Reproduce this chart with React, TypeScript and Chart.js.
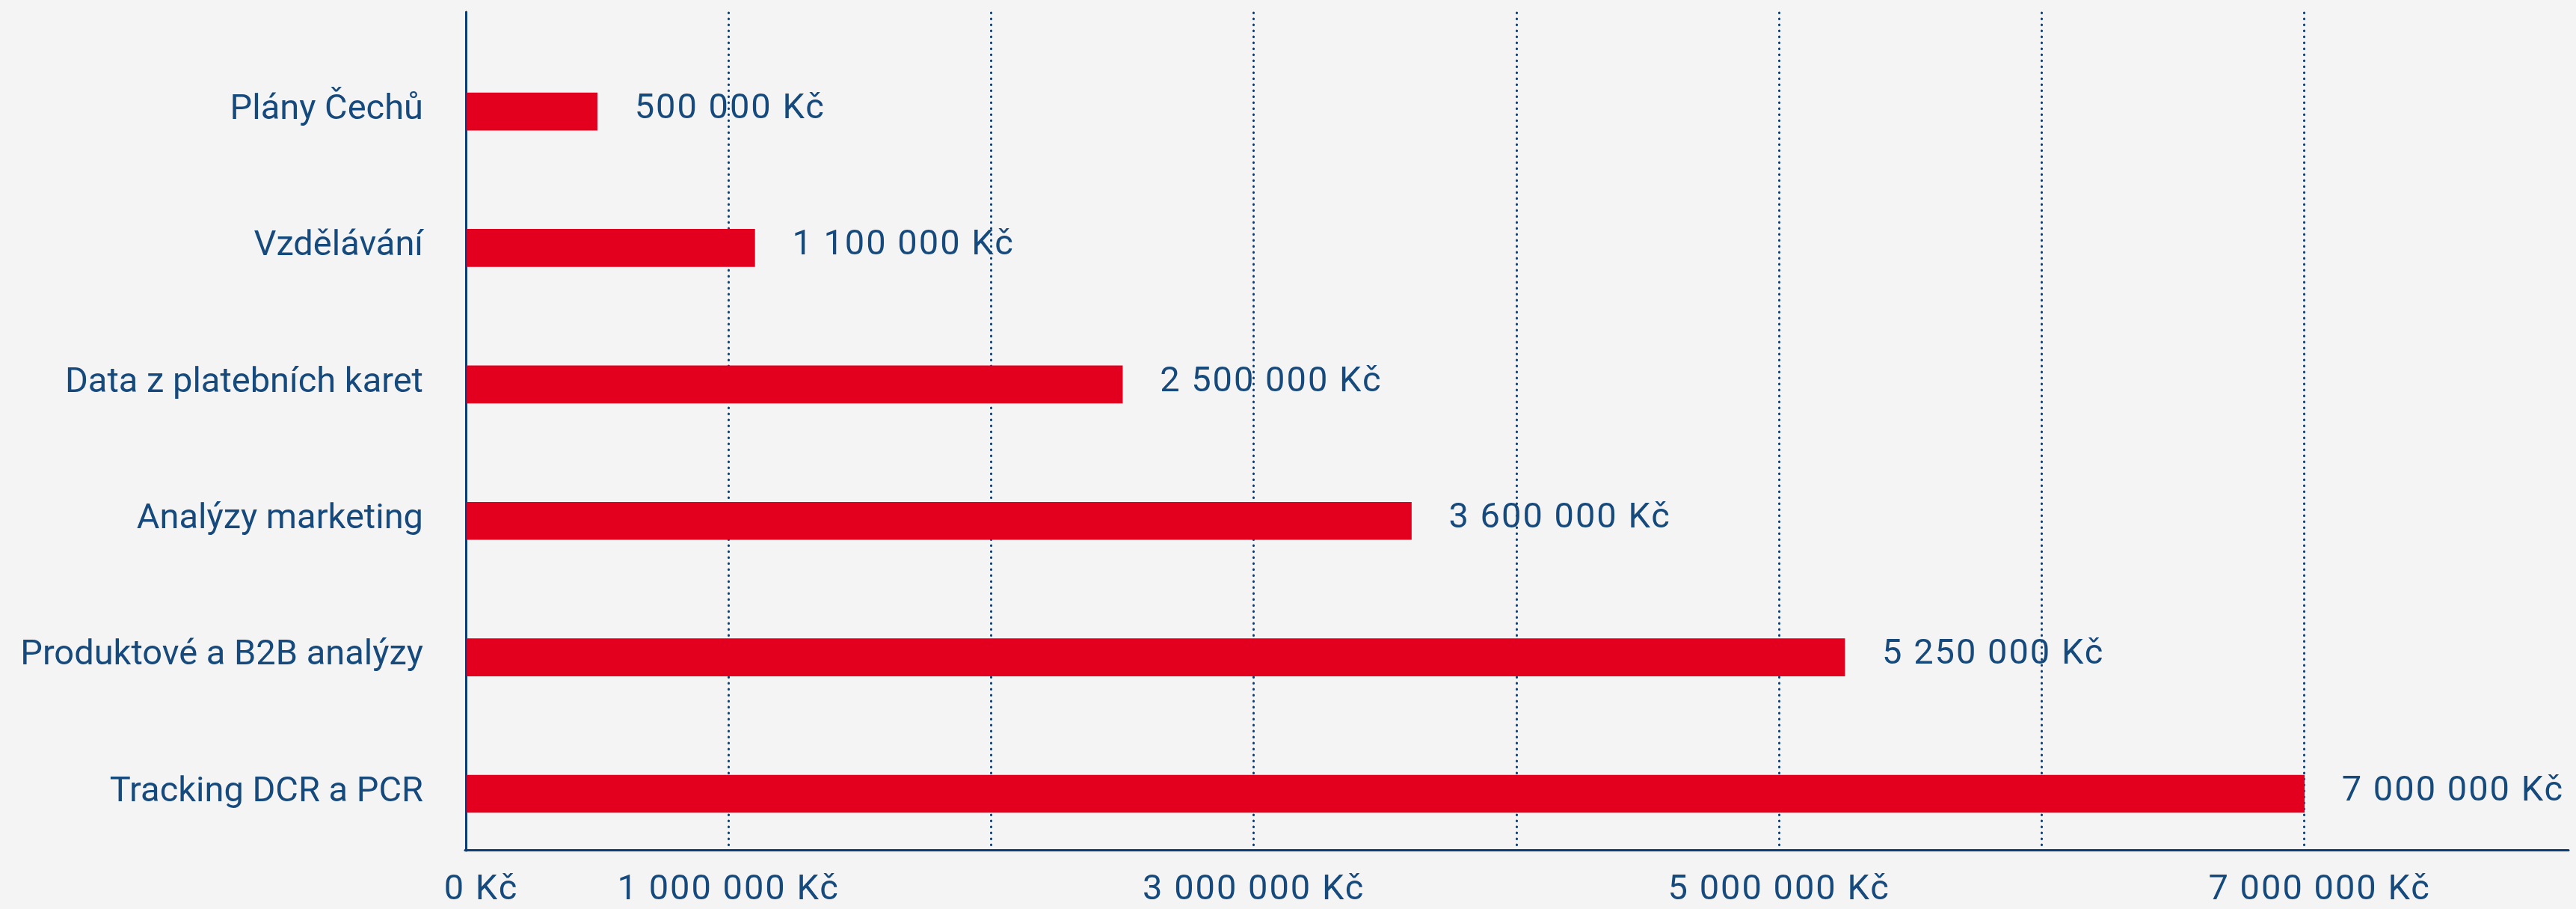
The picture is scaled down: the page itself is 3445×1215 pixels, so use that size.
import React, { useEffect, useRef } from "react";
import { Chart, registerables } from "chart.js";

Chart.register(...registerables);

// ---- data ----
const categories: string[] = [
  "Plány Čechů",
  "Vzdělávání",
  "Data z platebních karet",
  "Analýzy marketing",
  "Produktové a B2B analýzy",
  "Tracking DCR a PCR",
];
const values: number[] = [500000, 1100000, 2500000, 3600000, 5250000, 7000000];
const xTickValues: number[] = [0, 1000000, 2000000, 3000000, 4000000, 5000000, 6000000, 7000000, 8000000];
const xLabeledTicks: number[] = [0, 1000000, 3000000, 5000000, 7000000];
const xShiftedTicks: number[] = [0, 7000000];
const X_MIN = 0;
const X_MAX = 8000000;

// ---- style ----
const BG = "#f4f4f4";
const BAR = "#e3001e";
const TEXT = "#174a7c";
const AXIS = "#0b3d75";
const FONT_FAMILY = "Roboto";
const FONT_SIZE = 47;
const NUM_SPACING = "2px";

const fmt = (v: number) => String(v).replace(/\B(?=(\d{3})+(?!\d))/g, " ") + " Kč";

const bgPlugin = {
  id: "bgAndCaps",
  beforeDraw(chart: any) {
    const ctx = chart.ctx;
    ctx.save();
    ctx.fillStyle = BG;
    ctx.fillRect(0, 0, chart.width, chart.height);
    ctx.restore();
    ctx.lineCap = "round";
    ctx.letterSpacing = "0px";
  },
  afterDraw(chart: any) {
    chart.ctx.letterSpacing = "0px";
  },
};

const valueLabelPlugin = {
  id: "valueLabels",
  afterDatasetsDraw(chart: any) {
    const ctx = chart.ctx;
    const meta = chart.getDatasetMeta(0);
    ctx.save();
    ctx.font = `${FONT_SIZE}px ${FONT_FAMILY}`;
    ctx.fillStyle = TEXT;
    ctx.textAlign = "left";
    ctx.textBaseline = "middle";
    ctx.letterSpacing = NUM_SPACING;
    meta.data.forEach((bar: any, i: number) => {
      ctx.fillText(fmt(values[i]), bar.x + 50, bar.y - 3);
    });
    ctx.restore();
    // x-axis tick labels (z: 1) are drawn after this hook
    ctx.letterSpacing = NUM_SPACING;
  },
};

const zeroPadding = (s: any) => {
  s.paddingTop = 0;
  s.paddingBottom = 0;
  s.paddingLeft = 0;
  s.paddingRight = 0;
};

export default function App() {
  const ref = useRef<HTMLCanvasElement | null>(null);

  useEffect(() => {
    document.body.style.margin = "0";
    document.body.style.background = BG;
    if (!ref.current) return;
    const font = { family: FONT_FAMILY, size: FONT_SIZE };
    const chart = new Chart(ref.current, {
      type: "bar",
      data: {
        datasets: [
          {
            data: values.map((v, i) => ({ x: v, y: i })) as any,
            backgroundColor: BAR,
            borderWidth: 0,
            barThickness: 50,
          },
        ],
      },
      options: {
        indexAxis: "y",
        animation: false,
        responsive: false,
        layout: { padding: { top: 17, right: 12, left: 0, bottom: 0 } },
        plugins: { legend: { display: false }, tooltip: { enabled: false } },
        scales: {
          x: {
            type: "linear",
            min: X_MIN,
            max: X_MAX,
            offset: false,
            afterBuildTicks: (s: any) => {
              s.ticks = xTickValues.map((v) => ({ value: v }));
            },
            afterFit: (s: any) => {
              s.height = 79;
              zeroPadding(s);
            },
            grid: {
              color: (c: any) =>
                c.tick && (c.tick.value === X_MIN || c.tick.value === X_MAX) ? "rgba(0,0,0,0)" : AXIS,
              lineWidth: 3,
              drawTicks: false,
              offset: false,
            },
            border: { display: true, color: AXIS, width: 3, dash: [0.5, 7.5] },
            ticks: {
              autoSkip: false,
              maxRotation: 0,
              padding: 26,
              color: TEXT,
              font,
              z: 1,
              callback: (v: any) => {
                const n = Number(v);
                if (!xLabeledTicks.includes(n)) return "";
                return (xShiftedTicks.includes(n) ? "   " : "") + fmt(n);
              },
            },
          },
          y: {
            type: "linear",
            reverse: true,
            min: -0.724,
            max: 5.411,
            offset: false,
            afterBuildTicks: (s: any) => {
              s.ticks = categories.map((_, i) => ({ value: i }));
            },
            afterFit: (s: any) => {
              s.width = 623;
              zeroPadding(s);
            },
            grid: { display: false, drawTicks: false, offset: false },
            border: { display: true, color: AXIS, width: 3 },
            ticks: {
              autoSkip: false,
              padding: 57,
              labelOffset: -2,
              color: TEXT,
              font,
              callback: (v: any) => categories[Number(v)] ?? "",
            },
          },
        },
      },
      plugins: [bgPlugin, valueLabelPlugin],
    });
    return () => chart.destroy();
  }, []);

  return (
    <canvas
      ref={ref}
      width={3445}
      height={1215}
      style={{ display: "block", width: "3445px", height: "1215px" }}
    />
  );
}
